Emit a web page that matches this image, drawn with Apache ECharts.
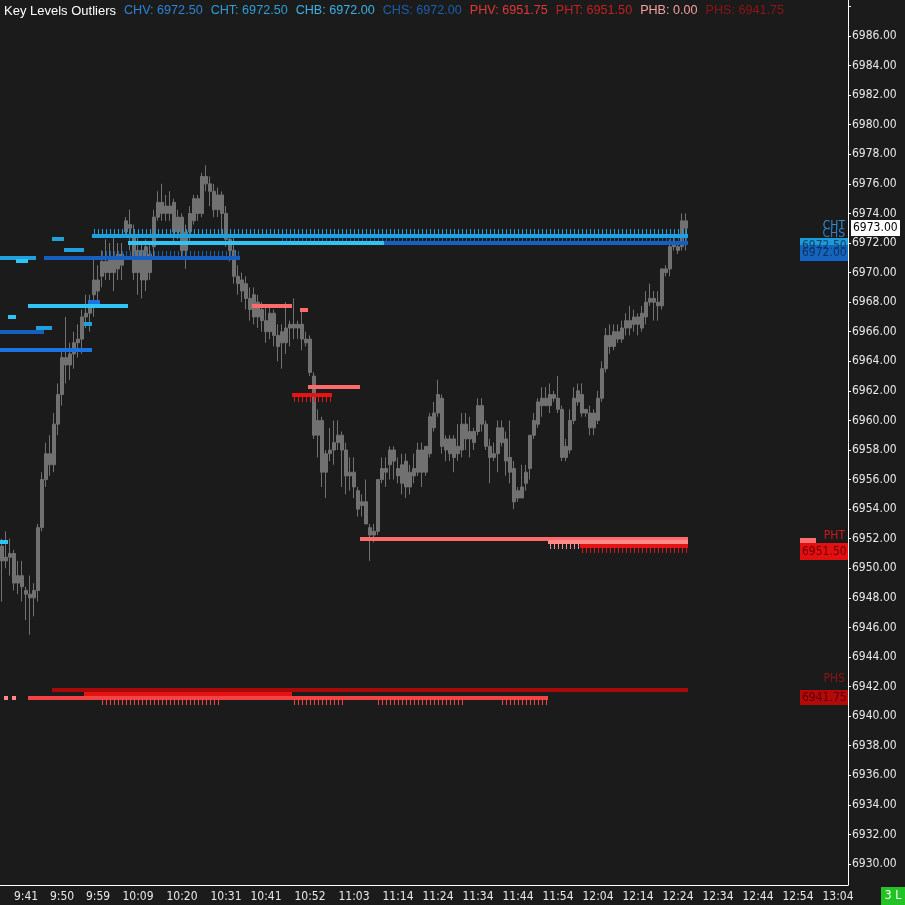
<!DOCTYPE html>
<html><head><meta charset="utf-8">
<script src="https://cdn.jsdelivr.net/npm/echarts@6/dist/echarts.min.js"></script>
<style>html,body{margin:0;padding:0;background:#1b1b1b;}#c{width:905px;height:905px;}</style>
</head><body><div id="c"></div>
<script>
// ---------- DATA ----------
const startTime = [9, 35];          // first 1-minute slot
const slotCount = 212;               // minutes on the axis
const tickLabels = ['9:41','9:50','9:59','10:09','10:20','10:31','10:41','10:52','11:03','11:14','11:24','11:34','11:44','11:54','12:04','12:14','12:24','12:34','12:44','12:54','13:04'];

// [open, close, low, high]
const candles = [
[6951.5,6950.5,6947.75,6952.0],[6950.5,6950.75,6950.0,6952.5],[6950.75,6951.0,6949.5,6952.0],[6951.0,6949.0,6948.5,6951.25],
[6949.5,6949.0,6948.25,6950.5],[6949.5,6948.75,6947.75,6950.5],[6948.5,6948.25,6946.5,6948.75],[6948.25,6948.0,6945.5,6949.5],
[6948.0,6948.5,6946.75,6949.0],[6948.5,6952.75,6947.75,6953.0],[6952.75,6956.0,6952.5,6956.5],[6956.0,6957.75,6955.5,6958.5],
[6957.75,6957.0,6956.25,6959.0],[6957.0,6959.75,6956.5,6960.5],[6959.75,6961.75,6959.0,6962.5],[6961.75,6964.25,6961.0,6964.75],
[6964.25,6963.75,6962.5,6967.0],[6963.75,6964.5,6962.75,6965.25],[6964.5,6965.25,6963.5,6966.0],[6965.25,6965.5,6964.25,6966.5],
[6965.5,6967.0,6964.5,6967.5],[6967.0,6967.25,6966.25,6968.5],[6967.25,6968.0,6966.0,6968.5],[6968.5,6969.5,6967.0,6971.0],
[6969.5,6968.75,6968.0,6970.5],[6969.75,6970.75,6969.0,6971.5],[6970.75,6970.0,6969.5,6972.25],[6970.0,6971.0,6969.5,6972.0],
[6971.0,6970.0,6968.75,6972.5],[6970.25,6971.25,6969.5,6972.0],[6971.25,6970.5,6969.5,6972.0],[6972.75,6973.5,6972.5,6973.75],
[6973.25,6973.0,6971.5,6974.25],[6972.5,6970.0,6969.5,6973.25],[6970.0,6971.5,6968.5,6972.5],[6971.5,6969.5,6968.25,6972.0],
[6969.5,6971.75,6968.75,6972.25],[6971.25,6970.0,6969.5,6972.0],[6971.75,6973.75,6971.0,6974.25],[6973.75,6974.75,6973.5,6975.5],
[6974.75,6974.0,6973.5,6976.0],[6974.0,6974.5,6973.5,6975.25],[6974.5,6974.0,6973.5,6975.5],[6974.75,6972.75,6972.0,6975.0],
[6972.75,6973.75,6972.25,6974.25],[6973.75,6971.5,6971.0,6974.0],[6971.5,6972.75,6970.25,6973.25],[6972.75,6974.0,6972.0,6974.5],
[6973.5,6975.0,6973.25,6975.25],[6975.0,6974.0,6973.5,6975.25],[6974.0,6976.5,6973.75,6976.75],[6976.5,6976.0,6975.5,6977.25],
[6976.0,6975.5,6974.5,6976.5],[6975.5,6974.25,6973.75,6976.0],[6974.25,6975.25,6973.75,6975.75],[6975.25,6974.0,6972.5,6975.5],
[6974.0,6972.25,6971.75,6974.5],[6972.25,6971.5,6970.75,6972.5],[6971.5,6969.75,6969.25,6972.5],[6969.75,6969.25,6968.5,6970.5],
[6969.5,6968.75,6968.0,6970.0],[6969.25,6968.25,6967.5,6969.75],[6968.25,6967.5,6966.75,6969.0],[6968.5,6967.0,6966.5,6969.0],
[6967.0,6968.0,6966.25,6968.5],[6967.5,6966.75,6966.0,6968.0],[6966.75,6966.0,6965.25,6967.75],[6966.0,6967.25,6965.5,6967.75],
[6967.25,6965.75,6965.0,6967.5],[6965.75,6965.0,6964.0,6966.5],[6966.0,6965.25,6963.5,6966.5],[6965.25,6966.25,6964.5,6968.0],
[6966.25,6966.5,6965.0,6966.75],[6966.5,6966.25,6965.5,6968.25],[6966.25,6966.5,6965.5,6966.75],[6966.5,6965.5,6964.75,6967.5],
[6965.5,6965.25,6965.0,6966.0],[6965.5,6963.25,6963.0,6965.75],[6963.0,6959.0,6958.75,6963.25],[6959.0,6960.0,6957.5,6960.75],
[6960.0,6956.5,6955.5,6960.25],[6956.5,6957.75,6954.75,6958.0],[6957.75,6958.0,6957.25,6959.5],[6958.0,6958.5,6957.0,6960.0],
[6958.5,6959.0,6958.0,6960.0],[6959.0,6958.0,6955.5,6959.25],[6958.0,6956.25,6955.0,6958.5],[6956.25,6956.5,6955.25,6957.5],
[6956.5,6955.5,6954.75,6957.5],[6955.25,6954.0,6953.5,6955.5],[6954.5,6954.25,6953.5,6955.0],[6954.5,6953.0,6953.0,6956.0],
[6952.75,6952.25,6950.5,6953.0],[6952.25,6952.5,6951.75,6953.0],[6952.5,6956.0,6952.25,6956.0],[6956.0,6956.75,6955.75,6957.5],
[6956.75,6956.5,6955.5,6957.5],[6957.0,6958.0,6956.0,6958.25],[6958.0,6957.25,6956.0,6958.25],[6956.75,6956.25,6955.75,6957.5],
[6957.0,6955.75,6955.0,6957.75],[6955.5,6957.25,6954.75,6957.75],[6956.5,6955.5,6955.0,6957.0],[6956.25,6956.75,6955.75,6957.75],
[6956.5,6958.0,6956.25,6958.5],[6958.0,6956.5,6955.5,6958.5],[6956.5,6958.25,6956.25,6958.25],[6957.75,6960.25,6957.5,6960.5],
[6959.5,6960.5,6959.25,6961.25],[6960.5,6961.75,6960.25,6962.75],[6961.5,6958.25,6957.75,6961.75],[6958.0,6958.75,6957.25,6959.0],
[6958.75,6957.75,6957.25,6959.0],[6957.5,6958.75,6956.5,6959.0],[6958.25,6957.75,6957.25,6959.75],[6958.0,6959.75,6957.5,6960.5],
[6959.75,6958.75,6958.0,6960.5],[6958.75,6959.25,6957.5,6960.25],[6959.25,6958.5,6958.0,6959.5],[6959.25,6961.0,6959.0,6961.5],
[6961.0,6959.75,6959.25,6961.5],[6959.75,6958.25,6958.0,6960.0],[6958.25,6957.5,6955.75,6958.75],[6957.5,6957.75,6957.25,6958.5],
[6957.75,6959.5,6956.5,6960.0],[6959.5,6958.5,6958.25,6960.0],[6958.75,6957.25,6956.25,6959.25],[6957.5,6956.5,6955.75,6960.0],
[6956.75,6954.5,6954.0,6957.25],[6955.25,6954.75,6954.5,6955.5],[6954.75,6955.5,6954.75,6957.0],[6955.75,6956.5,6955.25,6957.0],
[6956.75,6959.0,6956.0,6959.0],[6959.0,6960.0,6958.75,6960.5],[6959.75,6961.25,6959.5,6961.5],[6961.0,6961.5,6960.25,6962.25],
[6961.5,6961.0,6961.0,6962.25],[6961.0,6961.75,6960.5,6962.5],[6961.75,6961.5,6961.25,6962.0],[6961.5,6960.75,6960.5,6963.0],
[6960.75,6957.5,6957.25,6961.0],[6957.5,6958.25,6957.25,6958.75],[6958.0,6960.0,6957.75,6960.75],[6960.0,6961.5,6959.75,6962.25],
[6961.25,6962.0,6961.0,6962.5],[6961.75,6960.5,6960.25,6962.5],[6960.75,6960.5,6960.25,6960.75],[6960.5,6959.5,6959.0,6961.0],
[6959.5,6960.5,6959.0,6960.75],[6960.0,6961.5,6959.75,6962.0],[6961.5,6963.5,6961.25,6964.0],[6963.5,6965.75,6963.25,6966.25],
[6965.75,6965.0,6964.5,6966.5],[6965.0,6966.0,6964.75,6966.5],[6966.0,6965.5,6965.25,6966.5],[6965.5,6966.25,6965.25,6966.75],
[6966.25,6966.75,6965.75,6967.25],[6966.75,6966.25,6965.75,6967.75],[6967.0,6966.5,6966.0,6967.5],[6966.5,6967.0,6965.75,6967.25],
[6966.25,6967.25,6966.0,6967.75],[6967.0,6968.0,6966.5,6968.75],[6968.0,6968.25,6967.75,6969.25],[6968.25,6968.0,6966.75,6968.75],
[6968.0,6967.75,6966.75,6968.75],[6967.75,6970.25,6967.5,6970.25],[6970.0,6970.25,6969.75,6970.5],[6970.25,6971.75,6969.75,6972.25],
[6971.75,6972.0,6971.5,6972.5],[6971.75,6971.5,6971.25,6972.0],[6971.75,6973.5,6971.5,6974.0],[6973.5,6973.0,6971.5,6974.0]
];
const lastPrice = 6973.00;

const legendKeys = ['CHV','CHT','CHB','CHS','PHV','PHT','PHB','PHS'];
const legendValues = [6972.50, 6972.50, 6972.00, 6972.00, 6951.75, 6951.50, 0.00, 6941.75];

// key level segments: [first slot, last slot, price, level type]
const levels = [
 [0, 8, 6971.0, 'CHT'], [4, 6, 6970.75, 'CHB'], [13, 15, 6972.25, 'CHT'], [16, 20, 6971.5, 'CHT'],
 [11, 59, 6971.0, 'CHS'], [7, 31, 6967.75, 'CHB'], [22, 24, 6968.0, 'CHV'], [2, 3, 6967.0, 'CHB'],
 [0, 10, 6966.0, 'CHS'], [9, 12, 6966.25, 'CHT'], [21, 22, 6966.5, 'CHT'], [0, 22, 6964.75, 'CHV'],
 [0, 1, 6951.75, 'CHB'],
 [70, 171, 6972.0, 'CHS'], [23, 171, 6972.5, 'CHT'], [32, 95, 6972.0, 'CHB'],
 [63, 72, 6967.75, 'PHV'], [75, 76, 6967.5, 'PHV'], [77, 89, 6962.25, 'PHV'], [73, 82, 6961.75, 'PHT'],
 [90, 171, 6952.0, 'PHV'], [137, 171, 6951.75, 'PHB'], [145, 171, 6951.5, 'PHT'],
 [13, 171, 6941.75, 'PHS'], [21, 72, 6941.5, 'PHT'], [7, 136, 6941.25, 'PHX'], [1, 1, 6941.25, 'PHB'], [3, 3, 6941.25, 'PHB']
];
// touch marks: [first slot, last slot, price, level type]
const marksAbove = [[23, 171, 6972.5, 'CHT'], [70, 171, 6972.0, 'CHS'], [25, 59, 6971.0, 'CHS']];
const marksBelow = [[73, 82, 6961.75, 'PHT'], [137, 144, 6951.75, 'PHB'], [145, 171, 6951.5, 'PHT'],
 [25, 54, 6941.25, 'PHX'], [73, 85, 6941.25, 'PHX'], [94, 115, 6941.25, 'PHX'], [125, 136, 6941.25, 'PHX']];

// ---------- STYLE ----------
const lineColors = {CHV:'#1b72e0', CHT:'#22a0dc', CHB:'#2fc4f4', CHS:'#1560bd',
  PHV:'#ff6b6b', PHT:'#e41414', PHB:'#ff8a8a', PHS:'#a80a0a', PHX:'#f24444'};
const legendColors = {CHV:'#2a84d8', CHT:'#2d9fd8', CHB:'#3bb2e6', CHS:'#1b5fae',
  PHV:'#e23838', PHT:'#c42020', PHB:'#f2a0a0', PHS:'#8e1414'};
const FONT = "'DejaVu Sans Condensed','Liberation Sans Narrow','Liberation Sans',sans-serif";
const CANDLE = '#717171';

const categories = [];
for (let k = 0; k < slotCount; k++) {
  const m = startTime[0] * 60 + startTime[1] + k;
  categories.push(Math.floor(m / 60) + ':' + String(m % 60).padStart(2, '0'));
}
const showTick = (i, v) => tickLabels.indexOf(v) >= 0;

const marks = marksAbove.map(m => ({m, side: -1})).concat(marksBelow.map(m => ({m, side: 1})));

let legendText = '{t|Key Levels Outliers}';
const rich = {t: {color: '#ffffff', fontSize: 13, fontFamily: 'Liberation Sans', fontWeight: 'normal', padding: [0, 3, 0, 0]}};
legendKeys.forEach((k, i) => {
  legendText += ' {' + k + '|' + k + ': ' + legendValues[i].toFixed(2) + '}';
  rich[k] = {color: legendColors[k], fontSize: 12.6, fontFamily: 'Liberation Sans', fontWeight: 'normal', padding: [0, 3, 0, 0]};
});

const option = {
  animation: false,
  backgroundColor: '#1b1b1b',
  title: {left: 4, top: 2, padding: 0, text: legendText, textStyle: {fontWeight: 'normal', rich: rich}},
  grid: {left: 0, right: 57, top: 0, bottom: 20, containLabel: false},
  xAxis: {
    type: 'category', data: categories, boundaryGap: true,
    axisLine: {lineStyle: {color: '#ffffff', width: 1}},
    axisTick: {interval: showTick, alignWithLabel: true, length: 4, lineStyle: {color: '#ffffff'}},
    axisLabel: {interval: showTick, color: '#e8e8e8', fontSize: 12, fontFamily: FONT, margin: 6},
    splitLine: {show: false}
  },
  yAxis: {
    type: 'value', position: 'right', min: 6928.58, max: 6988.435, splitNumber: 30,
    axisLine: {show: true, lineStyle: {color: '#ffffff', width: 1}},
    axisTick: {show: true, length: 3, lineStyle: {color: '#ffffff'}},
    axisLabel: {color: '#e8e8e8', fontSize: 12, fontFamily: FONT, margin: 4,
      showMinLabel: false, showMaxLabel: false,
      formatter: v => (Math.abs(v / 2 - Math.round(v / 2)) < 1e-6 && v < 6987) ? v.toFixed(2) : ''},
    splitLine: {show: false}
  },
  series: [
    {type: 'candlestick', data: candles, barWidth: 3, z: 2,
     itemStyle: {color: CANDLE, color0: CANDLE, borderColor: CANDLE, borderColor0: CANDLE, borderWidth: 1}},
    {type: 'custom', z: 5, data: levels.map(l => [l[0], l[1], l[2]]), encode: {x: [0, 1], y: 2},
     renderItem: function (params, api) {
       const l = levels[params.dataIndex];
       const bw = api.size([1, 0])[0];
       const p0 = api.coord([api.value(0), api.value(2)]);
       const p1 = api.coord([api.value(1), api.value(2)]);
       const x0 = Math.round(p0[0] - bw / 2), x1 = Math.round(p1[0] + bw / 2);
       return {type: 'rect', shape: {x: x0, y: Math.round(p0[1] - 2), width: x1 - x0, height: 4},
               style: {fill: lineColors[l[3]]}};
     }},
    {type: 'custom', z: 4, data: marks.map(o => [o.m[0], o.m[1], o.m[2]]), encode: {x: [0, 1], y: 2},
     renderItem: function (params, api) {
       const o = marks[params.dataIndex];
       const children = [];
       const y = Math.round(api.coord([api.value(0), api.value(2)])[1]);
       for (let k = o.m[0]; k <= o.m[1]; k++) {
         const x = Math.round(api.coord([k, api.value(2)])[0]) + 0.5;
         const ya = o.side < 0 ? y - 2 - 5 : y + 2;
         children.push({type: 'line', shape: {x1: x, y1: ya, x2: x, y2: ya + 5},
                        style: {stroke: lineColors[o.m[3]], lineWidth: 1}});
       }
       return {type: 'group', children: children};
     }}
  ]
};

const chart = echarts.init(document.getElementById('c'), null, {renderer: 'canvas'});
chart.setOption(option);

const yp = v => Math.round(chart.convertToPixel({yAxisIndex: 0}, v));
const txt = (x, y, s, fill, align, size) => ({type: 'text', x: x, y: y, z: 20,
  style: {text: s, fill: fill, font: (size || 12) + 'px ' + FONT, textAlign: align || 'left', align: align || 'left',
          textVerticalAlign: 'middle', verticalAlign: 'middle'}});
const box = (x, y, w, h, fill) => ({type: 'rect', z: 19, shape: {x: x, y: y, width: w, height: h}, style: {fill: fill}});

const g = [];
// blue tags
g.push(txt(845, yp(6972.5) - 10, 'CHT', '#2a8fd0', 'right'));
g.push(box(815, yp(6972.0) - 16, 32, 14, '#1b1b1b'));
g.push(txt(845, yp(6972.0) - 9, 'CHS', '#2a7fd4', 'right'));
g.push(box(800, yp(6972.5) + 2, 48, 15, '#1f9ad8'));
g.push(txt(802, yp(6972.5) + 10, legendValues[1].toFixed(2), '#0c4268'));
g.push(box(800, yp(6972.0) + 2, 48, 16, '#1565c0'));
g.push(txt(802, yp(6972.0) + 10, legendValues[3].toFixed(2), '#0b3163'));
// red tags
g.push(box(800, yp(6951.75) - 4, 48, 15, '#ff6e6e'));
g.push(box(816, yp(6951.5) - 16, 32, 13, '#1b1b1b'));
g.push(txt(845, yp(6951.5) - 10, 'PHT', '#d01818', 'right'));
g.push(box(800, yp(6951.5) - 3, 48, 17, '#e21010'));
g.push(txt(802, yp(6951.5) + 6, legendValues[5].toFixed(2), '#6e0000'));
g.push(txt(845, yp(6941.75) - 11, 'PHS', '#8e1414', 'right'));
g.push(box(800, yp(6941.75), 48, 15, '#b40a0a'));
g.push(txt(802, yp(6941.75) + 8, legendValues[7].toFixed(2), '#5a0000'));
// last price
g.push(box(851, yp(lastPrice) - 8, 49, 16, '#ffffff'));
g.push(txt(853, yp(lastPrice), lastPrice.toFixed(2), '#000000'));
// status box
g.push(box(881, 887, 24, 18, '#22c322'));
g.push(txt(893, 896, '3 L', '#ffffff', 'center'));
chart.setOption({graphic: {elements: g}});
</script>
</body></html>
